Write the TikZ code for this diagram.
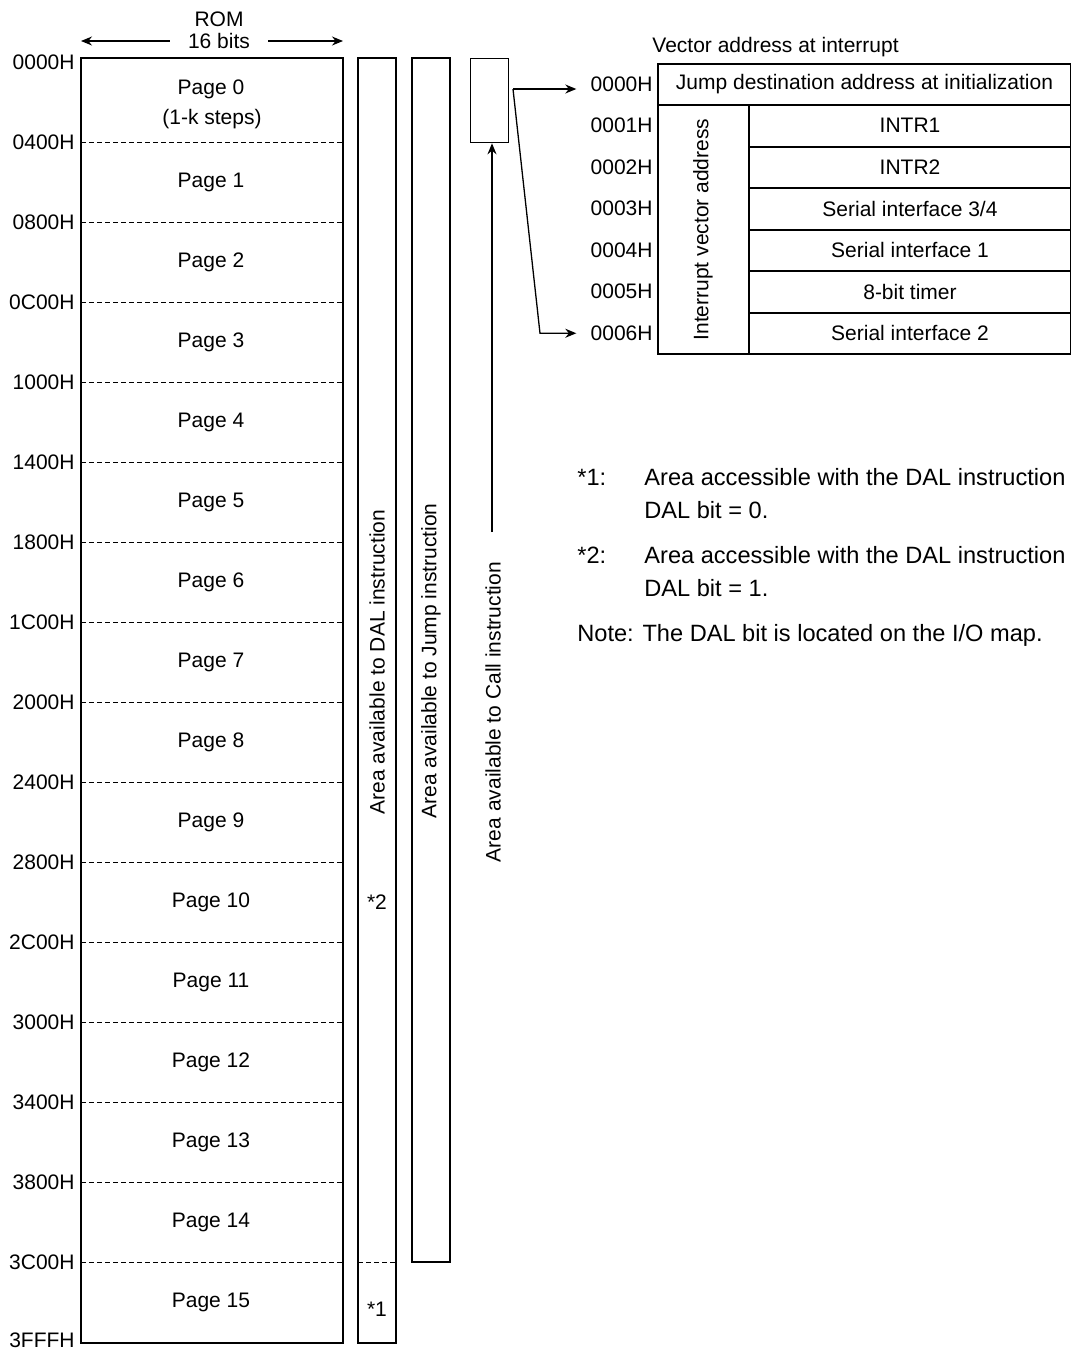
\documentclass[tikz,border=0pt]{standalone}
\usepackage{fontspec}
\setmainfont{Liberation Sans}
\usetikzlibrary{positioning,calc,arrows.meta}

\tikzset{
    box/.style={draw, line width=0.65pt},
    tbl/.style={draw, line width=1pt},
    pagesep/.style={line width=0.5pt, dash pattern=on 2.5pt off 1.5pt},
    addr/.style={anchor=east, inner sep=0pt},
    note/.style={anchor=west, inner sep=0pt, font=\fontsize{11.8}{14}\selectfont},
    vtext/.style={rotate=90},
}

\begin{document}
\begin{tikzpicture}[x=0.5pt, y=-0.5pt, font=\fontsize{10.5}{12.6}\selectfont,
        >={Stealth[length=5.5pt,width=4.5pt]}]
            \useasboundingbox (0,0) rectangle (1071,1351);
            % ROM
            \node (rom) at (219,19) {ROM};
            \node[inner xsep=9pt] (bits) at (219,41) {16 bits};
            \coordinate (romtl) at (81,58);
            \coordinate (rombr) at (343,1343);
            \draw [->, line width=0.65pt] (bits.west) -- (romtl |- bits);
            \draw [->, line width=0.65pt] (bits.east) -- (rombr |- bits);
            \draw[box] (romtl) rectangle (rombr);
            \node[addr] (a0) at (75,62) {0000H};
            \node[addr] (aend) at (75,1340) {3FFFH};
            \node (p0) at (211,89) {Page 0};
            \node (p0note) at (212,119) {(1-k steps)};
            \foreach \i/\adr in {1/0400H,2/0800H,3/0C00H,4/1000H,5/1400H,6/1800H,7/1C00H,8/2000H,
                    9/2400H,10/2800H,11/2C00H,12/3000H,13/3400H,14/3800H,15/3C00H} {
                \node[addr] (a\i) at (75,{62+80*\i}) {\adr};
                \draw[pagesep] (romtl |- a\i) -- (rombr |- a\i);
                \node (p\i) at (211,{102+80*\i}) {Page \i};
            }
            % instruction areas
            \coordinate (daltl) at (358,58);
            \coordinate (dalbr) at (396,1343);
            \draw[box] (daltl) rectangle (dalbr);
            \draw[pagesep] (daltl |- a15) -- (dalbr |- a15);
            \node[vtext] (daltxt) at (377,662) {Area available to DAL instruction};
            \node (star2) at (377,902) {*2};
            \node (star1) at (377,1309) {*1};
            \coordinate (jmptl) at (412,58);
            \coordinate (jmpbr) at (450,1262);
            \draw[box] (jmptl) rectangle (jmpbr);
            \node[vtext] (jmptxt) at (431,661) {Area available to Jump instruction};
            \node[box, anchor=north west, minimum width=19pt, minimum height=42pt, inner sep=0pt]
                (callbox) at (470,58) {};
            \node[vtext] (calltxt) at (493,712) {Area available to Call instruction};
            \coordinate (callfoot) at (492,532);
            \draw [->, line width=0.65pt] (callfoot) -- (callfoot |- callbox.south);
            % vector table
            \node[anchor=west, inner sep=0pt] (vhdr) at (652,47) {Vector address at interrupt};
            \draw[tbl] (658,63.5) rectangle (1071,354);
            \draw[tbl] (658,105) -- (1071,105);
            \draw[tbl] (749,105) -- (749,354);
            \foreach \row in {2,...,6}
                \draw[tbl] (749,{63.5+41.5*\row}) -- (1071,{63.5+41.5*\row});
            \node (c0) at (864.5,84.25) {Jump destination address at initialization};
            \node[vtext] (ivtxt) at (703,229.5) {Interrupt vector address};
            \foreach \row/\txt in {1/INTR1, 2/INTR2, 3/{Serial interface 3/4},
                    4/{Serial interface 1}, 5/{8-bit timer}, 6/{Serial interface 2}}
                \node (c\row) at (910,{84.25+41.5*\row}) {\txt};
            \foreach \row in {0,...,6}
                \node[addr] (v\row) at (653,{84.25+41.5*\row}) {000\row H};
            \coordinate (fork) at (513,89);
            \coordinate (bend) at (540,333.25);
            \draw [->, line width=0.65pt, shorten >=7pt] (fork) -- (fork -| v0.west);
            \draw [->, line width=0.65pt, shorten >=7pt] (fork) -- (bend) -- (bend -| v6.west);
            % notes
            \node[note] (n1) at (577,477) {*1:};
            \node[note] (n1a) at (644,477) {Area accessible with the DAL instruction};
            \node[note] (n1b) at (644,510) {DAL bit = 0.};
            \node[note] (n2) at (577,555) {*2:};
            \node[note] (n2a) at (644,555) {Area accessible with the DAL instruction};
            \node[note] (n2b) at (644,588) {DAL bit = 1.};
            \node[note] (nmap) at (577,635) {Note: The DAL bit is located on the I/O map.};
        \end{tikzpicture}
\end{document}
